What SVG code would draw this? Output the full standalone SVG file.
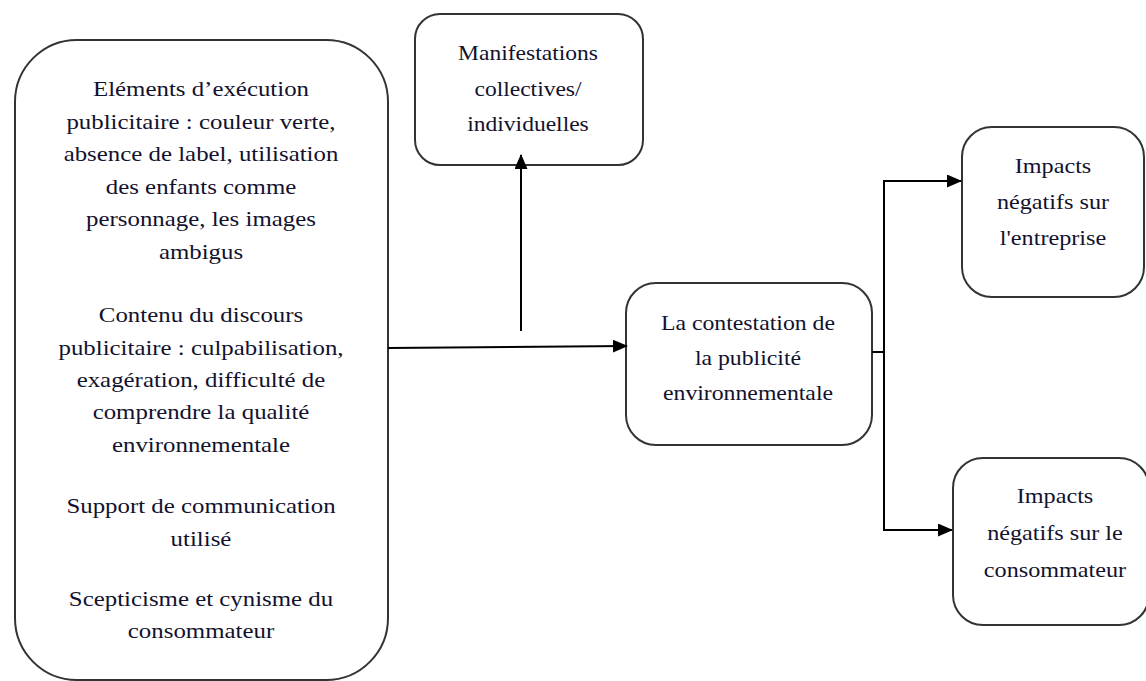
<svg xmlns="http://www.w3.org/2000/svg" width="1146" height="681" viewBox="0 0 1146 681">
  <defs>
    <marker id="arrow" viewBox="0 0 15 13" refX="14" refY="6.5" markerWidth="15" markerHeight="13" markerUnits="userSpaceOnUse" orient="auto">
      <path d="M0,0 L15,6.5 L0,13 z" fill="#000"/>
    </marker>
    <style>
      .box { fill: #fff; stroke: #333; stroke-width: 2; }
      .t { font-family: 'Liberation Serif', 'Times New Roman', Times, serif; font-size: 22px; fill: #12122e; text-anchor: middle; }
      .c { fill: none; stroke: #000; stroke-width: 2; }
    </style>
  </defs>
  <rect width="1146" height="681" fill="#fff"/>

  <g id="facteurs">
    <rect class="box" x="15" y="40" width="373" height="640" rx="62" ry="62"/>
    <g transform="translate(201,0) scale(1.13,1)" font-family="Liberation Serif">
      <text class="t" x="0" y="96">Eléments d’exécution</text>
      <text class="t" x="0" y="129">publicitaire : couleur verte,</text>
      <text class="t" x="0" y="161">absence de label, utilisation</text>
      <text class="t" x="0" y="194">des enfants comme</text>
      <text class="t" x="0" y="226">personnage, les images</text>
      <text class="t" x="0" y="259">ambigus</text>
      <text class="t" x="0" y="322">Contenu du discours</text>
      <text class="t" x="0" y="355">publicitaire : culpabilisation,</text>
      <text class="t" x="0" y="387">exagération, difficulté de</text>
      <text class="t" x="0" y="419">comprendre la qualité</text>
      <text class="t" x="0" y="452">environnementale</text>
      <text class="t" x="0" y="513">Support de communication</text>
      <text class="t" x="0" y="546">utilisé</text>
      <text class="t" x="0" y="606">Scepticisme et cynisme du</text>
      <text class="t" x="0" y="638">consommateur</text>
    </g>
  </g>

  <g id="manifestations">
    <rect class="box" x="415" y="14" width="228" height="151" rx="25" ry="25"/>
    <g transform="translate(528,0) scale(1.07,1)">
      <text class="t" x="0" y="60">Manifestations</text>
      <text class="t" x="0" y="96">collectives/</text>
      <text class="t" x="0" y="131">individuelles</text>
    </g>
  </g>

  <g id="contestation">
    <rect class="box" x="626" y="283" width="246" height="162" rx="30" ry="30"/>
    <g transform="translate(748,0) scale(1.08,1)">
      <text class="t" x="0" y="330">La contestation de</text>
      <text class="t" x="0" y="365">la publicité</text>
      <text class="t" x="0" y="400">environnementale</text>
    </g>
  </g>

  <g id="impacts-entreprise">
    <rect class="box" x="962" y="127" width="182" height="170" rx="30" ry="30"/>
    <g transform="translate(1053,0) scale(1.1,1)">
      <text class="t" x="0" y="173">Impacts</text>
      <text class="t" x="0" y="209">négatifs sur</text>
      <text class="t" x="0" y="245">l'entreprise</text>
    </g>
  </g>

  <g id="impacts-consommateur">
    <rect class="box" x="953" y="458" width="196" height="167" rx="30" ry="30"/>
    <g transform="translate(1055,0) scale(1.1,1)">
      <text class="t" x="0" y="503">Impacts</text>
      <text class="t" x="0" y="540">négatifs sur le</text>
      <text class="t" x="0" y="577">consommateur</text>
    </g>
  </g>

  <g id="connectors">
    <line class="c" x1="388" y1="348" x2="627" y2="346" marker-end="url(#arrow)"/>
    <line class="c" x1="521" y1="331" x2="521" y2="155" marker-end="url(#arrow)"/>
    <polyline class="c" points="872,352 884,352"/>
    <line class="c" x1="884" y1="181" x2="884" y2="530"/>
    <line class="c" x1="883" y1="181" x2="961" y2="181" marker-end="url(#arrow)"/>
    <line class="c" x1="883" y1="530" x2="952" y2="530" marker-end="url(#arrow)"/>
  </g>
</svg>
